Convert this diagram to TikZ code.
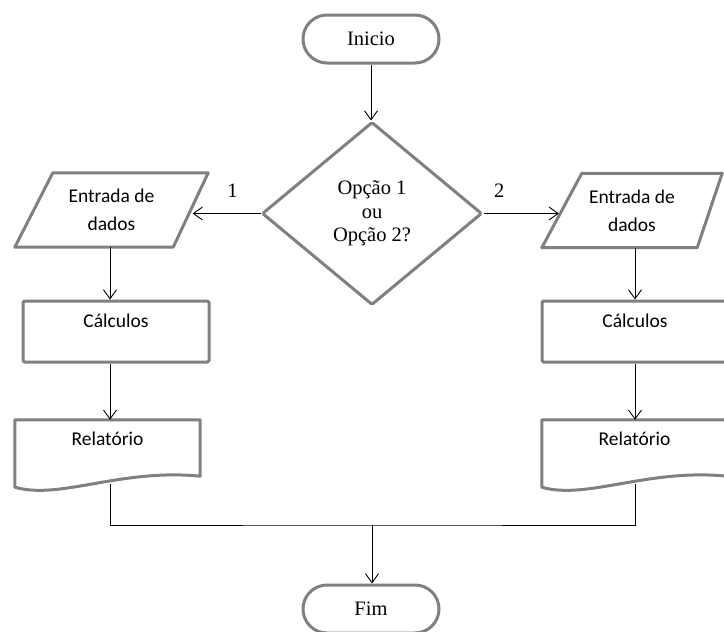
\documentclass[tikz,border=0pt]{standalone}
\usepackage{fontspec}
\setmainfont{Liberation Serif}
\newfontfamily\calibri{Carlito}
\usetikzlibrary{shapes.geometric,arrows.meta,calc}
\definecolor{contorno}{RGB}{128,128,128}
\begin{document}
\begin{tikzpicture}[x=1pt,y=-1pt]

    \tikzset{
      caixa/.style={
        draw=contorno,
        line width=3pt,
        fill=white,
        inner sep=0pt,
        rounded corners=1.5pt,
      },
      contornofolha/.style={
        draw=contorno,
        line width=3pt,
        line join=round,
      },
      terminal/.style={
        caixa,
        rectangle,
        rounded corners=24pt,
        minimum width=136pt,
        minimum height=48pt,
        font=\fontsize{20.5}{23.5}\selectfont,
      },
      decisao/.style={
        caixa,
        diamond,
        minimum width=220pt,
        minimum height=183pt,
        align=center,
        font=\fontsize{20.5}{23.5}\selectfont,
      },
      entrada/.style={
        rectangle,
        inner sep=0pt,
        minimum height=74pt,
        align=center,
        font=\calibri\fontsize{19.5}{28}\selectfont,
      },
      processo/.style={
        caixa,
        rectangle,
        minimum width=186pt,
        minimum height=61pt,
        text height=14pt,
        text depth=23pt,
        font=\calibri\fontsize{19.5}{24}\selectfont,
      },
      documento/.style={
        rectangle,
        minimum width=185pt,
        minimum height=64pt,
        inner sep=0pt,
        text height=14pt,
        text depth=28pt,
        font=\calibri\fontsize{19.5}{24}\selectfont,
      },
      seta/.style={
        -{Straight Barb[length=9pt,width=13pt]},
        line width=0.9pt,
      },
      rotulo/.style={
        above=12pt,
        font=\fontsize{20.5}{23.5}\selectfont,
      },
    }
    \useasboundingbox (0,0) rectangle (724,632);

	\node[terminal] (inicio) at (371,39) {Inicio};
	\node[decisao] (opcao) at (372,213.5) {Opção 1\\ou\\Opção 2?};
	\node[entrada, minimum width=193pt] (entrada1) at (111.5,210) {Entrada de\\dados};
	\node[entrada, minimum width=180pt] (entrada2) at (632,210.5) {Entrada de\\dados};
	\node[processo] (calculos1) at (116,331.5) {Cálculos};
	\node[processo] (calculos2) at (635,331.5) {Cálculos};
	\node[documento] (relatorio1) at (107.5,452) {Relatório};
	\node[documento] (relatorio2) at (634.5,452) {Relatório};
	\node[terminal] (fim) at (371,609) {Fim};

	\coordinate (colesq) at (110,0);
	\coordinate (coldir) at (635,0);
	\coordinate (juncao) at (372,525);

	% paralelogramos de entrada
	\foreach \n/\a/\b in {entrada1/38/35,entrada2/40/25}
	  \draw[contornofolha]
	    ($(\n.north west)+(\a,0)$) -- (\n.north east) -- ($(\n.south east)+(-\b,0)$) -- (\n.south west) -- cycle;
	\coordinate (lado1) at ($(entrada1.north east)!0.5!($(entrada1.south east)+(-35,0)$)$);
	\coordinate (lado2) at ($($(entrada2.north west)+(40,0)$)!0.5!(entrada2.south west)$);

	% folha do relatorio com borda ondulada
	\foreach \d in {relatorio1,relatorio2}
	  \draw[contornofolha]
	    (\d.north west) -- (\d.north east) -- ($(\d.south east)+(0,-8)$)
	    .. controls ($(\d.south east)+(-80,-16)$) and ($(\d.south west)+(45,16)$) .. ($(\d.south west)+(0,3)$) -- cycle;

	\draw[seta] (inicio.south) -- (inicio.south |- opcao.north);
	\draw[seta, shorten >=2pt] (opcao.west) -- node[pos=0.4, rotulo] {1} (opcao.west -| lado1);
	\draw[seta, shorten >=3pt] (opcao.east) -- node[pos=0.2, rotulo] {2} (opcao.east -| lado2);
	\draw[seta] (entrada1.south -| colesq) -- (calculos1.north -| colesq);
	\draw[seta] (calculos1.south -| colesq) -- (relatorio1.north -| colesq);
	\draw[seta] (entrada2.south -| coldir) -- (calculos2.north -| coldir);
	\draw[seta] (calculos2.south -| coldir) -- (relatorio2.north -| coldir);
	\draw[line width=0.9pt] (relatorio1.south -| colesq) |- (juncao) -| (relatorio2.south -| coldir);
	\draw[seta] (juncao) -- (juncao |- fim.north);

\end{tikzpicture}
\end{document}
